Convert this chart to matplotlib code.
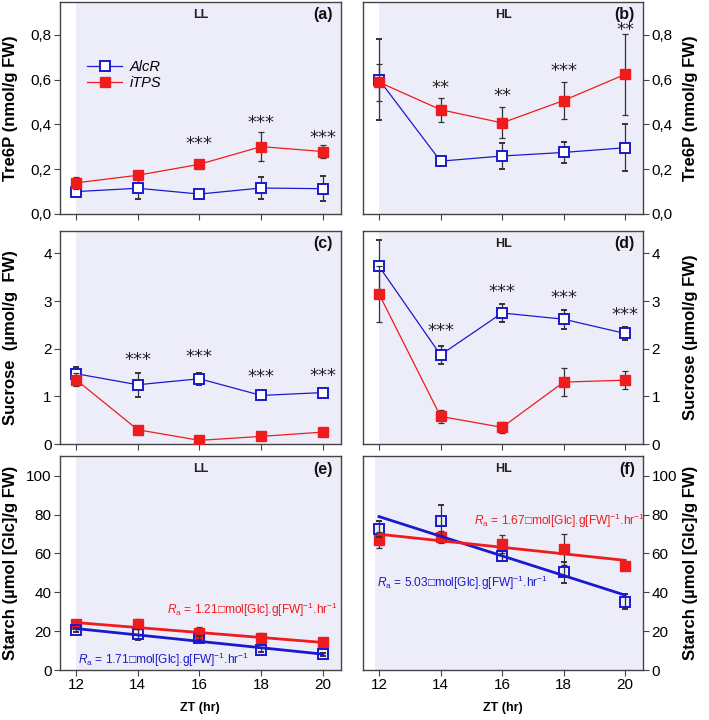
import numpy as np
import matplotlib
matplotlib.use("Agg")
import matplotlib.pyplot as plt
from matplotlib.ticker import FuncFormatter, MultipleLocator
from matplotlib.lines import Line2D

plt.rcParams['font.family'] = ['Liberation Sans', 'DejaVu Sans']
plt.rcParams['mathtext.fontset'] = 'custom'
plt.rcParams['mathtext.rm'] = 'Liberation Sans'
plt.rcParams['mathtext.it'] = 'Liberation Sans:italic'
plt.rcParams['mathtext.bf'] = 'Liberation Sans:bold'

# ---------------- data ----------------
zt = [12, 14, 16, 18, 20]
series_names = ["AlcR", "iTPS"]

# Tre6P (nmol/g FW)
tre_ll_alcr = [0.10, 0.115, 0.089, 0.116, 0.113]
tre_ll_alcr_err = [0.01, 0.05, 0.008, 0.048, 0.056]
tre_ll_itps = [0.139, 0.173, 0.222, 0.301, 0.279]
tre_ll_itps_err = [0.028, 0.01, 0.01, 0.066, 0.027]
tre_hl_alcr = [0.60, 0.236, 0.259, 0.275, 0.296]
tre_hl_alcr_err = [0.18, 0.02, 0.056, 0.048, 0.106]
tre_hl_itps = [0.589, 0.466, 0.407, 0.507, 0.624]
tre_hl_itps_err = [0.083, 0.053, 0.069, 0.083, 0.18]

# Sucrose (umol/g FW)
suc_ll_alcr = [1.476, 1.244, 1.37, 1.02, 1.08]
suc_ll_alcr_err = [0.15, 0.25, 0.13, 0.05, 0.05]
suc_ll_itps = [1.35, 0.30, 0.077, 0.16, 0.25]
suc_ll_itps_err = [0.14, 0.03, 0.03, 0.03, 0.03]
suc_hl_alcr = [3.73, 1.87, 2.75, 2.62, 2.32]
suc_hl_alcr_err = [0.55, 0.18, 0.18, 0.20, 0.13]
suc_hl_itps = [3.15, 0.58, 0.35, 1.30, 1.34]
suc_hl_itps_err = [0.59, 0.14, 0.12, 0.30, 0.19]

# Starch (umol [Glc]/g FW)
sta_ll_alcr = [20.6, 18.4, 16.3, 10.3, 8.2]
sta_ll_alcr_err = [1.0, 3.0, 1.0, 1.0, 0.8]
sta_ll_itps = [23.5, 23.5, 18.9, 16.3, 14.3]
sta_ll_itps_err = [2.0, 2.5, 3.0, 3.0, 1.0]
sta_hl_alcr = [72.5, 76.8, 58.8, 50.3, 35.2]
sta_hl_alcr_err = [4.0, 8.0, 2.5, 5.5, 4.0]
sta_hl_itps = [67.0, 68.4, 64.8, 62.2, 53.3]
sta_hl_itps_err = [4.0, 3.0, 4.5, 8.0, 1.0]

# significance
sig_tre_ll = {16: ("***", 0.313), 18: ("***", 0.408), 20: ("***", 0.341)}
sig_tre_hl = {14: ("**", 0.564), 16: ("**", 0.526), 18: ("***", 0.638), 20: ("**", 0.82)}
sig_suc_ll = {14: ("***", 1.77), 16: ("***", 1.83), 18: ("***", 1.40), 20: ("***", 1.43)}
sig_suc_hl = {14: ("***", 2.37), 16: ("***", 3.20), 18: ("***", 3.06), 20: ("***", 2.71)}

rate_ll = {"AlcR": "1.71", "iTPS": "1.21"}
rate_hl = {"AlcR": "5.03", "iTPS": "1.67"}

# ---------------- style ----------------
BLUE = "#1a1acc"
RED = "#ee1c1c"
SHADE = "#ededfa"
SPINE = "#444444"
YLAB_FS = 12

fig = plt.figure(figsize=(7.09, 7.2), dpi=100)

W = 0.396
lefts = [0.0846, 0.512]
rows = [(0.7028, 0.2944), (0.3833, 0.2958), (0.0694, 0.297)]

def fmt_comma(v, pos):
    return ("%.1f" % v).replace(".", ",")

def make_ax(r, c):
    b, h = rows[r]
    ax = fig.add_axes([lefts[c], b, W - (0.001 if c else 0), h])
    for s in ax.spines.values():
        s.set_color(SPINE)
        s.set_linewidth(1.0)
    ax.set_xlim(11.48, 20.58)
    ax.set_xticks(zt)
    ax.tick_params(direction="out", length=4, width=0.8, color=SPINE, labelsize=11, pad=2)
    if c == 1:
        ax.yaxis.tick_right()
        ax.yaxis.set_label_position("right")
    if r < 2:
        ax.set_xticklabels([])
    return ax

def set_ylab(ax, text, right=False):
    ax.set_ylabel(text, fontsize=YLAB_FS, fontweight="bold")
    if right:
        ax.yaxis.set_label_coords(1.143, 0.5)
    else:
        ax.yaxis.set_label_coords(-0.15, 0.5)

def plot_pair(ax, a, ae, t, te):
    ax.errorbar(zt, a, yerr=ae, color=BLUE, lw=0.9, marker="s", ms=7,
                mfc="white", mec=BLUE, mew=1.4, ecolor="#333333", elinewidth=0.9,
                capsize=2.5, capthick=0.9, zorder=3)
    ax.errorbar(zt, t, yerr=te, color=RED, lw=0.9, marker="s", ms=7,
                mfc=RED, mec=RED, ecolor="#333333", elinewidth=0.9,
                capsize=2.5, capthick=0.9, zorder=4)

def plot_starch(ax, a, ae, t, te):
    ax.errorbar(zt, a, yerr=ae, color=BLUE, lw=0, marker="s", ms=7,
                mfc="none", mec=BLUE, mew=1.4, ecolor="#333333", elinewidth=0.9,
                capsize=2.5, capthick=0.9, zorder=3)
    ax.errorbar(zt, t, yerr=te, color=RED, lw=0, marker="s", ms=7,
                mfc=RED, mec=RED, ecolor="#333333", elinewidth=0.9,
                capsize=2.5, capthick=0.9, zorder=2)
    xx = np.array([zt[0], zt[-1]])
    for vals, col in ((a, BLUE), (t, RED)):
        k, b0 = np.polyfit(zt, vals, 1)
        ax.plot(xx, k * xx + b0, color=col, lw=2.0, zorder=5)

def stars(ax, sig):
    for x, (s, y) in sig.items():
        ax.text(x, y, s, ha="center", va="center", fontsize=13,
                family="DejaVu Sans", color="#222222", zorder=6)

def headers(ax, cond, letter):
    if cond:
        ax.text(0.5, 0.94, cond, transform=ax.transAxes, ha="center", va="center",
                fontsize=9, fontweight="bold", color="#222222")
    ax.text(0.97, 0.94, letter, transform=ax.transAxes, ha="right", va="center",
            fontsize=11.5, fontweight="bold", color="#111111")

def shade(ax, x0):
    ax.axvspan(x0, 20.58, color=SHADE, zorder=0, lw=0)

def rate_text(val):
    return r"$R_{\rm a}$ = " + val + "\u25a1mol[Glc].g[FW]$^{-1}$.hr$^{-1}$"

# ---------- (a) ----------
ax = make_ax(0, 0)
shade(ax, 12)
plot_pair(ax, tre_ll_alcr, tre_ll_alcr_err, tre_ll_itps, tre_ll_itps_err)
ax.set_ylim(0, 0.947)
ax.yaxis.set_major_locator(MultipleLocator(0.2))
ax.yaxis.set_major_formatter(FuncFormatter(fmt_comma))
stars(ax, sig_tre_ll)
headers(ax, "LL", "(a)")
set_ylab(ax, "Tre6P (nmol/g FW)")
handles = [
    Line2D([], [], color=BLUE, lw=0.9, marker="s", ms=7, mfc="white", mec=BLUE, mew=1.4),
    Line2D([], [], color=RED, lw=0.9, marker="s", ms=7, mfc=RED, mec=RED),
]
ax.legend(handles, series_names, loc="upper left", bbox_to_anchor=(0.05, 0.79),
          frameon=False, prop={"style": "italic", "size": 10.5}, handlelength=2.4,
          handletextpad=0.5, labelspacing=0.15)

# ---------- (b) ----------
ax = make_ax(0, 1)
shade(ax, 12)
plot_pair(ax, tre_hl_alcr, tre_hl_alcr_err, tre_hl_itps, tre_hl_itps_err)
ax.set_ylim(0, 0.947)
ax.yaxis.set_major_locator(MultipleLocator(0.2))
ax.yaxis.set_major_formatter(FuncFormatter(fmt_comma))
stars(ax, sig_tre_hl)
headers(ax, "HL", "(b)")
set_ylab(ax, "Tre6P (nmol/g FW)", right=True)

# ---------- (c) ----------
ax = make_ax(1, 0)
shade(ax, 12)
plot_pair(ax, suc_ll_alcr, suc_ll_alcr_err, suc_ll_itps, suc_ll_itps_err)
ax.set_ylim(0, 4.47)
ax.yaxis.set_major_locator(MultipleLocator(1))
stars(ax, sig_suc_ll)
headers(ax, "", "(c)")
set_ylab(ax, "Sucrose  (\u00b5mol/g  FW)")

# ---------- (d) ----------
ax = make_ax(1, 1)
shade(ax, 12)
plot_pair(ax, suc_hl_alcr, suc_hl_alcr_err, suc_hl_itps, suc_hl_itps_err)
ax.set_ylim(0, 4.47)
ax.yaxis.set_major_locator(MultipleLocator(1))
stars(ax, sig_suc_hl)
headers(ax, "HL", "(d)")
set_ylab(ax, "Sucrose (\u00b5mol/g FW)", right=True)

# ---------- (e) ----------
ax = make_ax(2, 0)
shade(ax, 12)
plot_starch(ax, sta_ll_alcr, sta_ll_alcr_err, sta_ll_itps, sta_ll_itps_err)
ax.set_ylim(0, 110)
ax.yaxis.set_major_locator(MultipleLocator(20))
headers(ax, "LL", "(e)")
ax.text(14.94, 31, rate_text(rate_ll["iTPS"]), color=RED, fontsize=8.6,
        ha="left", va="center", family=["Liberation Sans", "DejaVu Sans"])
ax.text(12.06, 5.2, rate_text(rate_ll["AlcR"]), color=BLUE, fontsize=8.6,
        ha="left", va="center", family=["Liberation Sans", "DejaVu Sans"])
set_ylab(ax, "Starch (\u00b5mol [Glc]/g FW)")
ax.set_xlabel("ZT (hr)", fontsize=9, fontweight="bold", labelpad=7)

# ---------- (f) ----------
ax = make_ax(2, 1)
shade(ax, 11.87)
plot_starch(ax, sta_hl_alcr, sta_hl_alcr_err, sta_hl_itps, sta_hl_itps_err)
ax.set_ylim(0, 110)
ax.yaxis.set_major_locator(MultipleLocator(20))
headers(ax, "HL", "(f)")
ax.text(15.09, 76.8, rate_text(rate_hl["iTPS"]), color=RED, fontsize=8.6,
        ha="left", va="center", family=["Liberation Sans", "DejaVu Sans"])
ax.text(11.94, 44.7, rate_text(rate_hl["AlcR"]), color=BLUE, fontsize=8.6,
        ha="left", va="center", family=["Liberation Sans", "DejaVu Sans"])
set_ylab(ax, "Starch (\u00b5mol [Glc]/g FW)", right=True)
ax.set_xlabel("ZT (hr)", fontsize=9, fontweight="bold", labelpad=7)

fig.savefig("out.png", dpi=100)
